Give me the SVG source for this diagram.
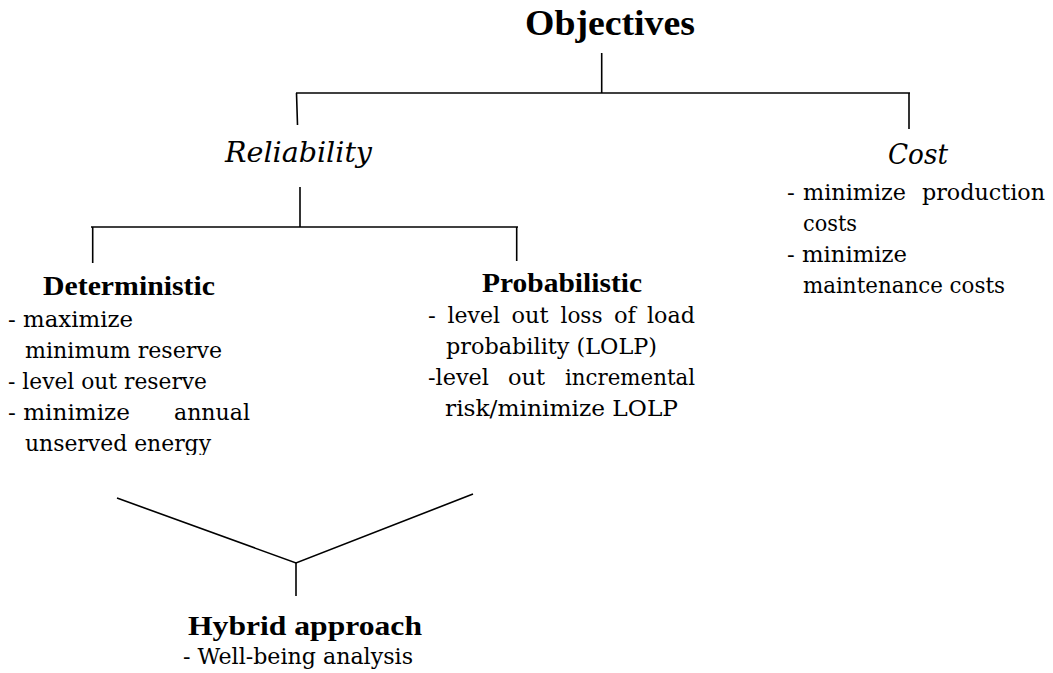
<svg xmlns="http://www.w3.org/2000/svg" width="1053" height="673" viewBox="0 0 1053 673">
<style>
text{font-family:"DejaVu Serif","Liberation Serif",serif;fill:#000}
.h{font-family:"Liberation Serif","DejaVu Serif",serif;font-weight:bold;font-size:28px}
.t{font-family:"Liberation Serif","DejaVu Serif",serif;font-weight:bold;font-size:36px}
.i{font-style:italic;font-size:27px}
.b{font-size:23px}
.ln{stroke:#000;fill:none;stroke-width:1.6;stroke-linecap:butt}
</style>
<defs>
<clipPath id="cut"><rect x="0" y="430" width="300" height="25"/></clipPath>
</defs>
<rect width="1053" height="673" fill="#fff"/>
<g id="connectors">
<line class="ln" x1="601.7" y1="53" x2="601.7" y2="93"/>
<line class="ln" x1="296" y1="93" x2="910" y2="93" stroke-width="2"/>
<line class="ln" x1="296.5" y1="93" x2="297.5" y2="125"/>
<line class="ln" x1="909" y1="93" x2="909" y2="129"/>
<line class="ln" x1="300" y1="187" x2="300" y2="227"/>
<line class="ln" x1="91" y1="227" x2="518" y2="227" stroke-width="2"/>
<line class="ln" x1="92.7" y1="227" x2="92.7" y2="263"/>
<line class="ln" x1="516.7" y1="227" x2="516.7" y2="261"/>
<polyline class="ln" points="117,498 296,563 473,494"/>
<line class="ln" x1="296" y1="563" x2="296" y2="596"/>
</g>
<g id="objectives">
<text class="t" x="525" y="35" textLength="170" lengthAdjust="spacingAndGlyphs">Objectives</text>
</g>
<g id="reliability">
<text class="i" x="225" y="162" textLength="147" lengthAdjust="spacingAndGlyphs">Reliability</text>
</g>
<g id="cost">
<text class="i" x="888" y="164" textLength="60" lengthAdjust="spacingAndGlyphs">Cost</text>
<text class="b" y="200"><tspan x="787">-</tspan><tspan x="803" textLength="103" lengthAdjust="spacingAndGlyphs">minimize</tspan> <tspan x="922" textLength="123" lengthAdjust="spacingAndGlyphs">production</tspan></text>
<text class="b" x="803" y="231" textLength="54" lengthAdjust="spacingAndGlyphs">costs</text>
<text class="b" x="787" y="262" textLength="120" lengthAdjust="spacingAndGlyphs">- minimize</text>
<text class="b" x="803" y="293" textLength="202" lengthAdjust="spacingAndGlyphs">maintenance costs</text>
</g>
<g id="deterministic">
<text class="h" x="43" y="295" textLength="172" lengthAdjust="spacingAndGlyphs">Deterministic</text>
<text class="b" x="8" y="327" textLength="125" lengthAdjust="spacingAndGlyphs">- maximize</text>
<text class="b" x="25" y="358" textLength="197" lengthAdjust="spacingAndGlyphs">minimum reserve</text>
<text class="b" x="8" y="389" textLength="199" lengthAdjust="spacingAndGlyphs">- level out reserve</text>
<text class="b" y="420"><tspan x="8" textLength="122" lengthAdjust="spacingAndGlyphs">- minimize</tspan> <tspan x="174" textLength="76" lengthAdjust="spacingAndGlyphs">annual</tspan></text>
<text class="b" x="25" y="451" textLength="186" lengthAdjust="spacingAndGlyphs" clip-path="url(#cut)">unserved energy</text>
</g>
<g id="probabilistic">
<text class="h" x="482" y="292" textLength="160" lengthAdjust="spacingAndGlyphs">Probabilistic</text>
<text class="b" y="323"><tspan x="428">-</tspan> <tspan x="447.5" textLength="52.5" lengthAdjust="spacingAndGlyphs">level</tspan> <tspan x="511.5" textLength="37" lengthAdjust="spacingAndGlyphs">out</tspan> <tspan x="560.5" textLength="42" lengthAdjust="spacingAndGlyphs">loss</tspan> <tspan x="614" textLength="22" lengthAdjust="spacingAndGlyphs">of</tspan> <tspan x="647" textLength="48" lengthAdjust="spacingAndGlyphs">load</tspan></text>
<text class="b" x="446" y="354" textLength="211" lengthAdjust="spacingAndGlyphs">probability (LOLP)</text>
<text class="b" y="385"><tspan x="428" textLength="61" lengthAdjust="spacingAndGlyphs">-level</tspan> <tspan x="508" textLength="37" lengthAdjust="spacingAndGlyphs">out</tspan> <tspan x="565" textLength="130" lengthAdjust="spacingAndGlyphs">incremental</tspan></text>
<text class="b" x="445" y="416" textLength="233" lengthAdjust="spacingAndGlyphs">risk/minimize LOLP</text>
</g>
<g id="hybrid">
<text class="h" x="188" y="635" textLength="234" lengthAdjust="spacingAndGlyphs">Hybrid approach</text>
<text class="b" x="183" y="664" textLength="230" lengthAdjust="spacingAndGlyphs">- Well-being analysis</text>
</g>
</svg>
